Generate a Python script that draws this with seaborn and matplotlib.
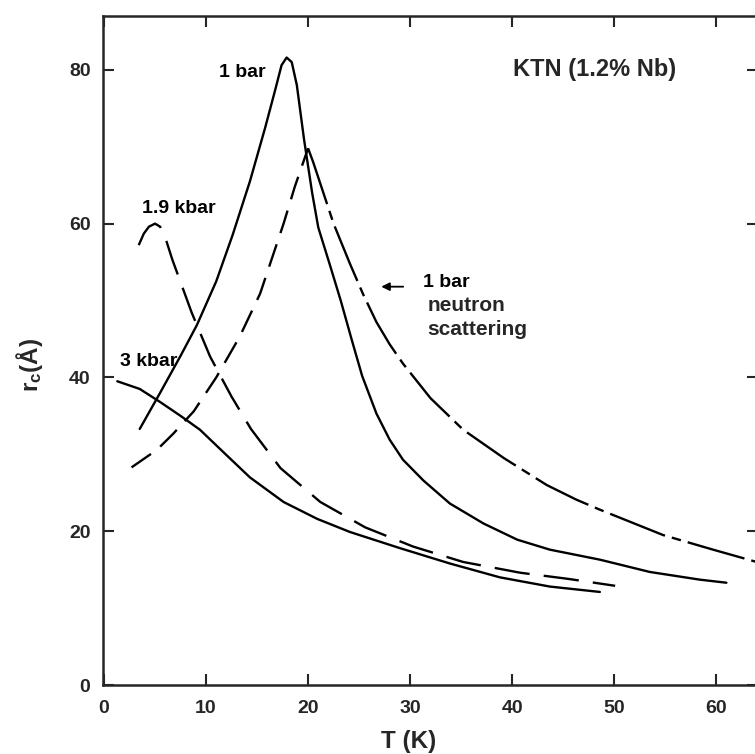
import matplotlib
matplotlib.use("Agg")
import matplotlib.pyplot as plt
import seaborn as sns

# ------------------------------------------------------------------
# Correlation length r_c vs temperature for KTN (1.2% Nb)
# values
# ------------------------------------------------------------------
t_1bar = [3.5, 5.5, 7.5, 9.1, 11.0, 12.6, 14.3, 15.8, 16.8, 17.4, 17.9, 18.4,
          18.9, 19.6, 20.4, 21.0, 22.1, 23.2, 24.3, 25.3, 26.7, 28.0, 29.3,
          31.3, 33.9, 37.2, 40.5, 43.7, 48.6, 53.5, 58.4, 61.0]
r_1bar = [33.3, 38.0, 42.8, 46.8, 52.5, 58.5, 65.5, 72.5, 77.5, 80.6, 81.6, 81.0,
          78.0, 71.0, 64.0, 59.5, 54.8, 50.0, 44.8, 40.2, 35.3, 31.9, 29.3,
          26.6, 23.6, 21.0, 18.9, 17.6, 16.3, 14.7, 13.7, 13.3]

t_19kbar = [3.4, 3.9, 4.4, 5.0, 5.5, 6.0, 6.7, 8.6, 10.4, 12.5, 14.4, 17.3, 21.2,
            25.6, 30.3, 35.2, 40.8, 45.5, 50.1]
r_19kbar = [57.2, 58.7, 59.6, 60.0, 59.6, 58.2, 55.3, 48.4, 42.7, 37.5, 33.3, 28.2,
            23.8, 20.5, 18.0, 16.0, 14.6, 13.8, 12.9]

t_3kbar = [1.3, 3.5, 5.5, 7.5, 9.4, 12.0, 14.3, 17.6, 20.9, 24.1, 29.0, 33.9,
           38.8, 43.7, 48.6]
r_3kbar = [39.5, 38.5, 36.8, 35.0, 33.2, 29.9, 27.0, 23.8, 21.6, 19.9, 17.8, 15.8,
           14.0, 12.8, 12.1]

# neutron scattering at 1 bar: rising branch (dashed) and falling branch (dash-dot)
t_neutron_up = [2.7, 5.2, 6.8, 8.8, 11.0, 13.3, 15.3, 17.6, 18.7, 20.0]
r_neutron_up = [28.3, 30.6, 32.7, 35.6, 40.0, 45.3, 50.9, 60.0, 64.8, 69.8]
t_neutron_down = [20.0, 20.5, 21.5, 22.5, 24.1, 25.4, 26.7, 28.0, 29.3, 32.0,
                  35.2, 39.2, 43.4, 46.3, 48.6, 54.8, 59.7, 64.5]
r_neutron_down = [69.8, 68.0, 64.0, 60.0, 54.8, 50.8, 47.2, 44.3, 41.8, 37.3,
                  33.2, 29.5, 26.0, 24.1, 22.8, 19.5, 17.6, 15.8]

x_ticks = [0, 10, 20, 30, 40, 50, 60]
y_ticks = [0, 20, 40, 60, 80]

sns.set_style("ticks")
plt.rcParams["font.family"] = ["Liberation Sans", "DejaVu Sans"]
plt.rcParams["font.weight"] = "bold"
plt.rcParams["mathtext.fontset"] = "custom"
plt.rcParams["mathtext.bf"] = "Liberation Sans:bold"
plt.rcParams["mathtext.rm"] = "Liberation Sans:bold"
plt.rcParams["mathtext.default"] = "bf"

fig = plt.figure(figsize=(7.55, 7.54), dpi=100)
# right spine sits just outside the picture, as in the scanned original
ax = fig.add_axes([103 / 755, 69 / 754, 655 / 755, 669 / 754])

lw = 1.7
sns.lineplot(x=t_1bar, y=r_1bar, ax=ax, color="black", linewidth=lw,
             estimator=None, sort=False)
sns.lineplot(x=t_3kbar, y=r_3kbar, ax=ax, color="black", linewidth=lw,
             estimator=None, sort=False)
sns.lineplot(x=t_19kbar, y=r_19kbar, ax=ax, color="black", linewidth=lw,
             estimator=None, sort=False, linestyle=(0, (15, 6)))
sns.lineplot(x=t_neutron_up, y=r_neutron_up, ax=ax, color="black", linewidth=lw,
             estimator=None, sort=False, linestyle=(0, (10, 5)))
sns.lineplot(x=t_neutron_down, y=r_neutron_down, ax=ax, color="black", linewidth=lw,
             estimator=None, sort=False, linestyle=(0, (25, 3, 4, 3)))

ax.set_xlim(-0.1, 64.1)
ax.set_ylim(0, 87)
ax.set_xticks(x_ticks)
ax.set_yticks(y_ticks)
ax.tick_params(direction="in", length=8, width=1.5, labelsize=14,
               top=True, right=True)
ax.tick_params(axis="x", pad=11)
ax.tick_params(axis="y", pad=9)
for s in ax.spines.values():
    s.set_linewidth(1.8)
    s.set_visible(True)

ax.set_xlabel("T (K)", fontsize=17.5, fontweight="bold", va="center")
ax.set_ylabel("r$_c$(Å)", fontsize=17.5, fontweight="bold", va="center")
ax.xaxis.set_label_coords(0.466, -0.085)
ax.yaxis.set_label_coords(-0.112, 0.478)

# curve labels
txt = dict(fontsize=14, fontweight="bold", color="black")
ax.text(13.6, 79.7, "1 bar", ha="center", va="center", **txt)
ax.text(7.3, 62.0, "1.9 kbar", ha="center", va="center", **txt)
ax.text(4.4, 42.1, "3 kbar", ha="center", va="center", **txt)
ax.text(48.1, 80.0, "KTN (1.2% Nb)", ha="center", va="center",
        fontsize=17, fontweight="bold")
ax.text(31.3, 52.4, "1 bar", ha="left", va="center", **txt)
ax.text(31.7, 49.4, "neutron", ha="left", va="center", fontsize=15, fontweight="bold")
ax.text(31.7, 46.2, "scattering", ha="left", va="center", fontsize=15, fontweight="bold")
ax.annotate("", xy=(26.9, 51.8), xytext=(29.6, 51.8),
            arrowprops=dict(arrowstyle="-|>", color="black", lw=1.3,
                            mutation_scale=12))

fig.savefig("out.png", dpi=100)
